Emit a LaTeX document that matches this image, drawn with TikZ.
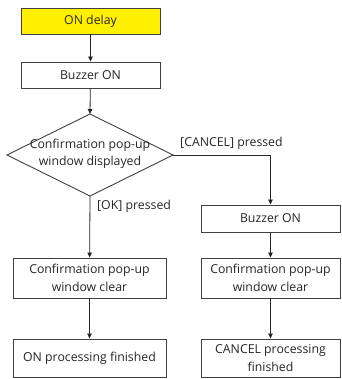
\documentclass[tikz,border=0pt]{standalone}
\usepackage{fontspec}
\setmainfont{Open Sans}
\usetikzlibrary{arrows.meta}
\definecolor{bdr}{HTML}{404040}
\definecolor{ylw}{HTML}{FFF000}
\begin{document}
\begin{tikzpicture}[x=1pt,y=-1pt,
  every node/.style={font=\fontsize{12.3}{17.5}\selectfont, text=black!85},
  box/.style={draw=bdr, line width=0.9pt, fill=white, align=center, inner sep=0pt},
  conn/.style={draw=black!85, line width=0.8pt, -{Triangle[length=5pt,width=4.5pt]}},
  lbl/.style={inner sep=0pt, anchor=west}]
\useasboundingbox (0,0) rectangle (341,379);
\node[box, fill=ylw, minimum width=139, minimum height=26] (ondelay) at (90.5,21) {ON delay};
\node[box, minimum width=139, minimum height=26] (buz1) at (90.5,75) {Buzzer ON};
\coordinate (dt) at (90,114);
\coordinate (dl) at (7,155);
\coordinate (dr) at (173,155);
\coordinate (db) at (90,196);
\draw[draw=bdr, line width=0.9pt] (dt) -- (dr) -- (db) -- (dl) -- cycle;
\node[align=center, inner sep=0pt] (dec) at (90,154) {Confirmation pop-up\\window displayed};
\node[box, minimum width=139, minimum height=27] (buz2) at (270.5,218.5) {Buzzer ON};
\node[box, minimum width=153, minimum height=40] (clr1) at (89.5,278) {Confirmation pop-up\\window clear};
\node[box, minimum width=139, minimum height=40] (clr2) at (270.5,278) {Confirmation pop-up\\window clear};
\node[box, minimum width=153, minimum height=38] (fin1) at (89.5,358) {ON processing finished};
\node[box, minimum width=139, minimum height=38] (fin2) at (270.5,358) {CANCEL processing\\finished};
\draw[conn] (ondelay) -- (buz1);
\draw[conn] (buz1) -- (dt);
\draw[conn] (dr) -| (buz2);
\draw[conn] (db) -- (clr1);
\draw[conn] (buz2) -- (clr2);
\draw[conn] (clr1) -- (fin1);
\draw[conn] (clr2) -- (fin2);
\node[lbl] (lcancel) at (180,143) {[CANCEL] pressed};
\node[lbl] (lok) at (97,206) {[OK] pressed};
\end{tikzpicture}
\end{document}
